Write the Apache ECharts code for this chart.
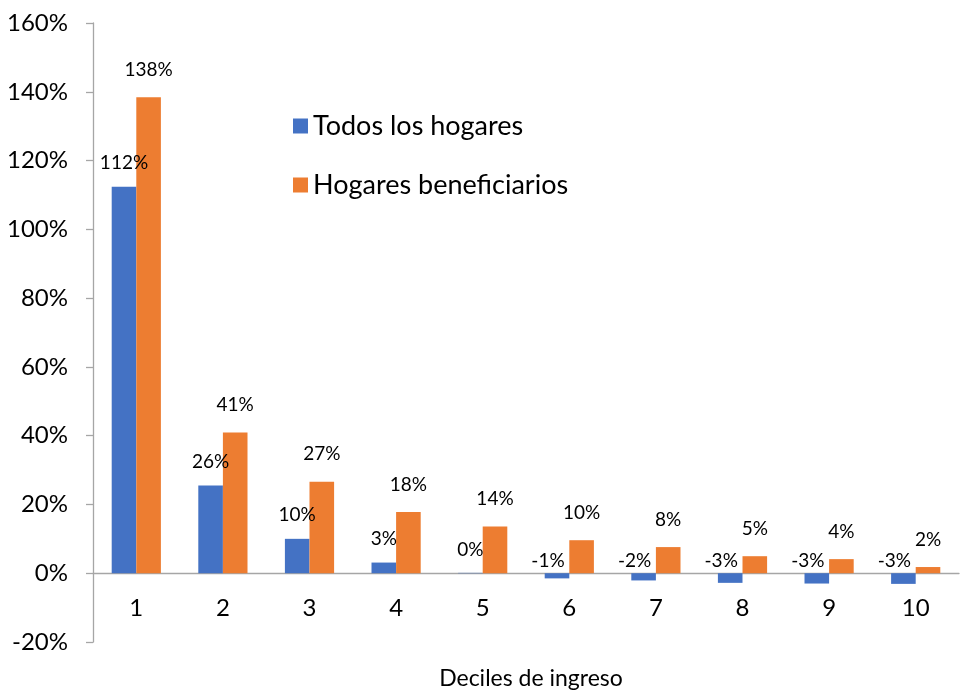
<!DOCTYPE html>
<html>
<head>
<meta charset="utf-8">
<script src="https://cdn.jsdelivr.net/npm/echarts@6/dist/echarts.min.js"></script>
<style>
  html, body { margin: 0; padding: 0; background: #fff; }
  #chart { width: 968px; height: 693px; }
</style>
</head>
<body>
<div id="chart"></div>
<script>
const deciles = ['1', '2', '3', '4', '5', '6', '7', '8', '9', '10'];
const todos = [112.4, 25.5, 10.0, 3.1, 0.1, -1.5, -2.1, -2.8, -3.0, -3.1];
const beneficiarios = [138.4, 40.9, 26.6, 17.8, 13.6, 9.6, 7.6, 4.95, 4.1, 1.8];
const seriesNames = ['Todos los hogares', 'Hogares beneficiarios'];
const yMin = -20, yMax = 160, yStep = 20;

const font = 'Lato';
const axisColor = '#a6a6a6';
const pct = p => Math.round(p.value) + '%';

const gridTop = 23, gridBottom = 51, chartH = 693;
const gridH = chartH - gridTop - gridBottom;
// lift the category axis from the bottom edge up to the 0% line
const zeroLift = gridH * (0 - yMin) / (yMax - yMin);

const chart = echarts.init(document.getElementById('chart'));

const option = {
    animation: false,
    textStyle: { fontFamily: font, color: '#000' },
    grid: { left: 93, right: 9, top: gridTop, bottom: gridBottom, outerBoundsMode: 'none', containLabel: false },
    legend: {
        orient: 'vertical',
        left: 288,
        top: 107,
        itemWidth: 15,
        itemHeight: 15,
        itemGap: 31,
        icon: 'rect',
        textStyle: { fontFamily: font, fontSize: 27, lineHeight: 28, color: '#000' },
        data: seriesNames
    },
    xAxis: {
        type: 'category',
        data: deciles,
        offset: -zeroLift,
        name: 'Deciles de ingreso',
        nameLocation: 'middle',
        nameGap: 94,
        nameTextStyle: { fontFamily: font, fontSize: 23, color: '#000', padding: [0, 0, 0, 10] },
        axisLine: { onZero: false, lineStyle: { color: axisColor, width: 1.3 } },
        axisTick: { length: 8, lineStyle: { color: axisColor, width: 1.3 } },
        axisLabel: { fontFamily: font, fontSize: 24, color: '#000', margin: 23 }
    },
    yAxis: {
        type: 'value',
        min: yMin,
        max: yMax,
        interval: yStep,
        splitLine: { show: false },
        axisLine: { show: true, lineStyle: { color: axisColor, width: 1.3 } },
        axisTick: { show: true, length: 7, lineStyle: { color: axisColor, width: 1.3 } },
        axisLabel: { fontFamily: font, fontSize: 24, color: '#000', margin: 25, formatter: '{value}%' }
    },
    series: [
        {
            name: seriesNames[0],
            type: 'bar',
            barWidth: 24.6,
            barGap: '0%',
            itemStyle: { color: '#4472C4' },
            label: { show: true, position: 'top', distance: 14, fontFamily: font, fontSize: 19, color: '#000', formatter: pct },
            data: todos.map(v => v < 0
                ? { value: v, label: { distance: 3, offset: [-9, 0] } }
                : v)
        },
        {
            name: seriesNames[1],
            type: 'bar',
            barWidth: 24.6,
            barGap: '0%',
            itemStyle: { color: '#ED7D31' },
            label: { show: true, position: 'top', distance: 18, fontFamily: font, fontSize: 19, color: '#000', formatter: pct },
            data: beneficiarios
        }
    ]
};

chart.setOption(option);
</script>
</body>
</html>
